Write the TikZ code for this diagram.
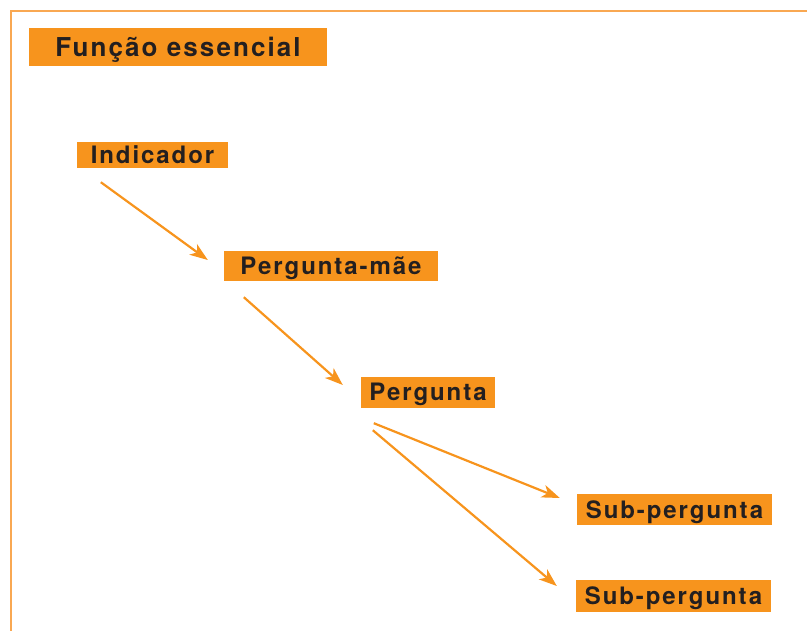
\documentclass[tikz,border=0pt]{standalone}
\usepackage{fontspec}
\setmainfont{TeX Gyre Heros}
\newfontfamily\lblfont[LetterSpace=8]{TeX Gyre Heros}
\usetikzlibrary{arrows.meta,calc}
\definecolor{orng}{HTML}{F7941D}
\definecolor{framec}{HTML}{F9A852}
\definecolor{ink}{HTML}{231F20}
\begin{document}
\begin{tikzpicture}[x=1pt,y=-1pt,
  lbl/.style={fill=orng, inner sep=0pt, text=ink, font=\lblfont\bfseries\fontsize{24}{24}\selectfont, text height=17pt, text depth=0pt, align=center},
  ttl/.style={lbl, font=\lblfont\bfseries\fontsize{26}{26}\selectfont, text height=18.5pt},
  link/.style={draw=orng, line width=2.2pt, -{Stealth[length=18pt,width=13pt,inset=5pt]}}]
\useasboundingbox (0,0) rectangle (807,631);
\draw[framec, line width=2pt] (11,631) -- (11,11) -- (807,11);
\node[ttl, minimum width=298pt, minimum height=38pt] (title) at (178,47) {Função essencial};
\node[lbl, minimum width=151pt, minimum height=26pt] (ind) at (152.5,155) {Indicador};
\node[lbl, minimum width=214pt, minimum height=30pt] (mae) at (331,266) {Pergunta-mãe};
\node[lbl, minimum width=134pt, minimum height=31pt] (perg) at (428,392.5) {Pergunta};
\node[lbl, minimum width=195pt, minimum height=31pt] (sub1) at (674.5,509.5) {Sub-pergunta};
\node[lbl, minimum width=195pt, minimum height=32pt] (sub2) at (673.5,596) {Sub-pergunta};
\coordinate (a1s) at ($(ind.south west)+(24,14)$);
\coordinate (a1e) at ($(mae.west)+(-16,-6)$);
\coordinate (a2s) at ($(mae.south west)+(20,16)$);
\coordinate (a2e) at ($(perg.west)+(-18,-7.5)$);
\coordinate (a3s) at ($(perg.south west)+(13,15)$);
\coordinate (a3e) at ($(sub1.west)+(-17,-11.5)$);
\coordinate (a4s) at ($(perg.south west)+(12,22)$);
\coordinate (a4e) at ($(sub2.west)+(-19,-10)$);
\draw[link] (a1s) -- (a1e);
\draw[link] (a2s) -- (a2e);
\draw[link] (a3s) -- (a3e);
\draw[link] (a4s) -- (a4e);
\end{tikzpicture}
\end{document}
